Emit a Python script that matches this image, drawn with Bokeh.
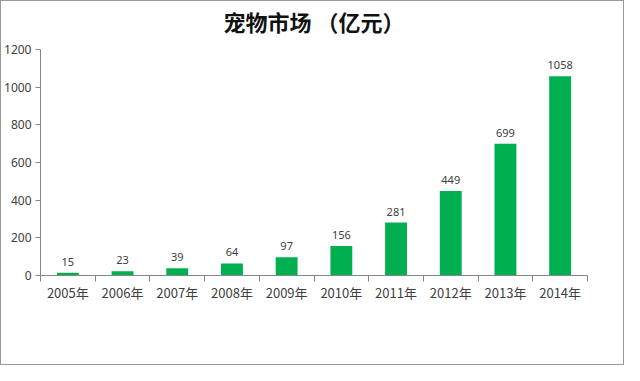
from bokeh.plotting import figure
from bokeh.models import FixedTicker, ColumnDataSource, Range1d, LinearAxis
from bokeh.core.properties import value
from bokeh.embed import file_html
from bokeh.resources import INLINE
import numpy as np

years = ["2005年", "2006年", "2007年", "2008年", "2009年",
         "2010年", "2011年", "2012年", "2013年", "2014年"]
values = [15, 23, 39, 64, 97, 156, 281, 449, 699, 1058]
y_ticks = [0, 200, 400, 600, 800, 1000, 1200]
title_text = "宠物市场 （亿元）"

xs = np.arange(len(years)) + 0.5
src = ColumnDataSource(dict(x=xs, top=values, lab=[str(v) for v in values]))

p = figure(width=624, height=365, output_backend="svg", toolbar_location=None,
           x_range=Range1d(0, len(years)), y_range=Range1d(0, 1200),
           min_border_left=39, min_border_right=38, min_border_top=48,
           min_border_bottom=91)

# title drawn as the label of an empty axis above the plot
top_axis = LinearAxis(ticker=FixedTicker(ticks=[]), axis_label=title_text,
                      axis_line_color=None, major_tick_line_color=None,
                      minor_tick_line_color=None, major_label_text_font_size="0px",
                      axis_label_standoff=13, axis_label_text_font="Noto Sans CJK SC",
                      axis_label_text_font_size="22px", axis_label_text_font_style="bold",
                      axis_label_text_color="#111111")
p.add_layout(top_axis, "above")

p.vbar(x="x", top="top", width=0.4, bottom=0, source=src,
       fill_color="#00B050", line_color=None)
p.text(x="x", y="top", text="lab", source=src, text_align="center",
       text_baseline="bottom", y_offset=-7, text_font_size="11px",
       text_font=value("Noto Sans"), text_color="#404040")

p.xgrid.visible = False
p.ygrid.visible = False
p.outline_line_color = None

xax = p.below[0]
xax.ticker = FixedTicker(ticks=list(xs), minor_ticks=list(range(len(years) + 1)))
xax.major_label_overrides = {float(x): y for x, y in zip(xs, years)}
xax.major_tick_line_color = None
xax.minor_tick_out = 6
xax.minor_tick_in = 0
xax.minor_tick_line_color = "#868686"
xax.axis_line_color = "#868686"
xax.major_label_text_font = "Noto Sans CJK SC"
xax.major_label_text_font_size = "13px"
xax.major_label_text_color = "#404040"
xax.major_label_standoff = 1

p.yaxis.ticker = FixedTicker(ticks=y_ticks)
p.yaxis.minor_tick_line_color = None
p.yaxis.major_tick_out = 5
p.yaxis.major_tick_in = 0
p.yaxis.major_tick_line_color = "#868686"
p.yaxis.axis_line_color = "#868686"
p.yaxis.major_label_text_font = "Noto Sans"
p.yaxis.major_label_text_font_size = "12px"
p.yaxis.major_label_text_color = "#404040"
p.yaxis.major_label_standoff = 4

p.styles = {"border": "1px solid #999999", "box-sizing": "border-box"}

open("out.html", "w").write(file_html(p, INLINE))
